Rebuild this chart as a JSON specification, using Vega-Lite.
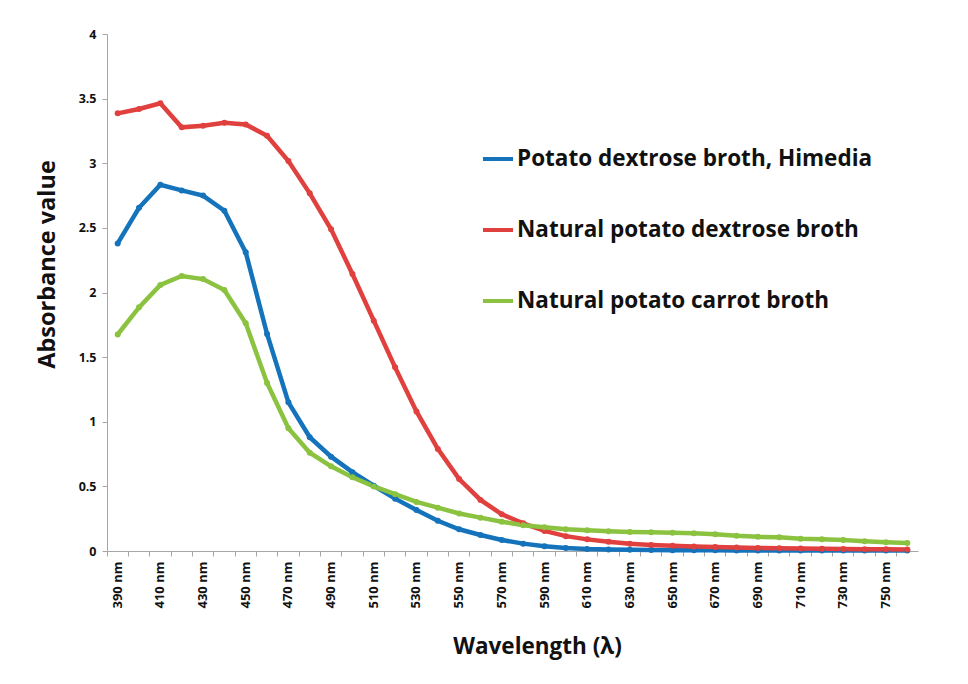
{
  "$schema": "https://vega.github.io/schema/vega-lite/v6.json",
  "width": 811,
  "height": 517,
  "autosize": {"type": "none"},
  "padding": {"left": 107, "top": 34, "right": 50, "bottom": 133},
  "background": "white",
  "config": {
    "view": {"stroke": null},
    "font": "Open Sans",
    "axis": {"labelFont": "Open Sans", "titleFont": "Open Sans", "labelFontWeight": "bold", "titleFontWeight": "bold", "labelColor": "#111", "titleColor": "#111", "domainColor": "#A6A6A6", "tickColor": "#A6A6A6", "grid": false},
    "legend": {"labelFont": "Open Sans"}
  },
  "data": {"values": [
    {"wavelength": 390, "series": "Potato dextrose broth, Himedia", "absorbance": 2.38},
    {"wavelength": 400, "series": "Potato dextrose broth, Himedia", "absorbance": 2.655},
    {"wavelength": 410, "series": "Potato dextrose broth, Himedia", "absorbance": 2.833},
    {"wavelength": 420, "series": "Potato dextrose broth, Himedia", "absorbance": 2.79},
    {"wavelength": 430, "series": "Potato dextrose broth, Himedia", "absorbance": 2.75},
    {"wavelength": 440, "series": "Potato dextrose broth, Himedia", "absorbance": 2.633},
    {"wavelength": 450, "series": "Potato dextrose broth, Himedia", "absorbance": 2.311},
    {"wavelength": 460, "series": "Potato dextrose broth, Himedia", "absorbance": 1.679},
    {"wavelength": 470, "series": "Potato dextrose broth, Himedia", "absorbance": 1.15},
    {"wavelength": 480, "series": "Potato dextrose broth, Himedia", "absorbance": 0.88},
    {"wavelength": 490, "series": "Potato dextrose broth, Himedia", "absorbance": 0.73},
    {"wavelength": 500, "series": "Potato dextrose broth, Himedia", "absorbance": 0.61},
    {"wavelength": 510, "series": "Potato dextrose broth, Himedia", "absorbance": 0.505},
    {"wavelength": 520, "series": "Potato dextrose broth, Himedia", "absorbance": 0.405},
    {"wavelength": 530, "series": "Potato dextrose broth, Himedia", "absorbance": 0.317},
    {"wavelength": 540, "series": "Potato dextrose broth, Himedia", "absorbance": 0.234},
    {"wavelength": 550, "series": "Potato dextrose broth, Himedia", "absorbance": 0.168},
    {"wavelength": 560, "series": "Potato dextrose broth, Himedia", "absorbance": 0.124},
    {"wavelength": 570, "series": "Potato dextrose broth, Himedia", "absorbance": 0.085},
    {"wavelength": 580, "series": "Potato dextrose broth, Himedia", "absorbance": 0.057},
    {"wavelength": 590, "series": "Potato dextrose broth, Himedia", "absorbance": 0.036},
    {"wavelength": 600, "series": "Potato dextrose broth, Himedia", "absorbance": 0.023},
    {"wavelength": 610, "series": "Potato dextrose broth, Himedia", "absorbance": 0.015},
    {"wavelength": 620, "series": "Potato dextrose broth, Himedia", "absorbance": 0.011},
    {"wavelength": 630, "series": "Potato dextrose broth, Himedia", "absorbance": 0.009},
    {"wavelength": 640, "series": "Potato dextrose broth, Himedia", "absorbance": 0.007},
    {"wavelength": 650, "series": "Potato dextrose broth, Himedia", "absorbance": 0.006},
    {"wavelength": 660, "series": "Potato dextrose broth, Himedia", "absorbance": 0.005},
    {"wavelength": 670, "series": "Potato dextrose broth, Himedia", "absorbance": 0.005},
    {"wavelength": 680, "series": "Potato dextrose broth, Himedia", "absorbance": 0.004},
    {"wavelength": 690, "series": "Potato dextrose broth, Himedia", "absorbance": 0.004},
    {"wavelength": 700, "series": "Potato dextrose broth, Himedia", "absorbance": 0.004},
    {"wavelength": 710, "series": "Potato dextrose broth, Himedia", "absorbance": 0.003},
    {"wavelength": 720, "series": "Potato dextrose broth, Himedia", "absorbance": 0.003},
    {"wavelength": 730, "series": "Potato dextrose broth, Himedia", "absorbance": 0.003},
    {"wavelength": 740, "series": "Potato dextrose broth, Himedia", "absorbance": 0.003},
    {"wavelength": 750, "series": "Potato dextrose broth, Himedia", "absorbance": 0.003},
    {"wavelength": 760, "series": "Potato dextrose broth, Himedia", "absorbance": 0.003},
    {"wavelength": 390, "series": "Natural potato dextrose broth", "absorbance": 3.386},
    {"wavelength": 400, "series": "Natural potato dextrose broth", "absorbance": 3.42},
    {"wavelength": 410, "series": "Natural potato dextrose broth", "absorbance": 3.464},
    {"wavelength": 420, "series": "Natural potato dextrose broth", "absorbance": 3.278},
    {"wavelength": 430, "series": "Natural potato dextrose broth", "absorbance": 3.29},
    {"wavelength": 440, "series": "Natural potato dextrose broth", "absorbance": 3.314},
    {"wavelength": 450, "series": "Natural potato dextrose broth", "absorbance": 3.3},
    {"wavelength": 460, "series": "Natural potato dextrose broth", "absorbance": 3.213},
    {"wavelength": 470, "series": "Natural potato dextrose broth", "absorbance": 3.017},
    {"wavelength": 480, "series": "Natural potato dextrose broth", "absorbance": 2.767},
    {"wavelength": 490, "series": "Natural potato dextrose broth", "absorbance": 2.489},
    {"wavelength": 500, "series": "Natural potato dextrose broth", "absorbance": 2.143},
    {"wavelength": 510, "series": "Natural potato dextrose broth", "absorbance": 1.782},
    {"wavelength": 520, "series": "Natural potato dextrose broth", "absorbance": 1.421},
    {"wavelength": 530, "series": "Natural potato dextrose broth", "absorbance": 1.08},
    {"wavelength": 540, "series": "Natural potato dextrose broth", "absorbance": 0.79},
    {"wavelength": 550, "series": "Natural potato dextrose broth", "absorbance": 0.557},
    {"wavelength": 560, "series": "Natural potato dextrose broth", "absorbance": 0.395},
    {"wavelength": 570, "series": "Natural potato dextrose broth", "absorbance": 0.284},
    {"wavelength": 580, "series": "Natural potato dextrose broth", "absorbance": 0.214},
    {"wavelength": 590, "series": "Natural potato dextrose broth", "absorbance": 0.155},
    {"wavelength": 600, "series": "Natural potato dextrose broth", "absorbance": 0.115},
    {"wavelength": 610, "series": "Natural potato dextrose broth", "absorbance": 0.09},
    {"wavelength": 620, "series": "Natural potato dextrose broth", "absorbance": 0.072},
    {"wavelength": 630, "series": "Natural potato dextrose broth", "absorbance": 0.057},
    {"wavelength": 640, "series": "Natural potato dextrose broth", "absorbance": 0.047},
    {"wavelength": 650, "series": "Natural potato dextrose broth", "absorbance": 0.04},
    {"wavelength": 660, "series": "Natural potato dextrose broth", "absorbance": 0.035},
    {"wavelength": 670, "series": "Natural potato dextrose broth", "absorbance": 0.031},
    {"wavelength": 680, "series": "Natural potato dextrose broth", "absorbance": 0.027},
    {"wavelength": 690, "series": "Natural potato dextrose broth", "absorbance": 0.024},
    {"wavelength": 700, "series": "Natural potato dextrose broth", "absorbance": 0.021},
    {"wavelength": 710, "series": "Natural potato dextrose broth", "absorbance": 0.019},
    {"wavelength": 720, "series": "Natural potato dextrose broth", "absorbance": 0.017},
    {"wavelength": 730, "series": "Natural potato dextrose broth", "absorbance": 0.015},
    {"wavelength": 740, "series": "Natural potato dextrose broth", "absorbance": 0.014},
    {"wavelength": 750, "series": "Natural potato dextrose broth", "absorbance": 0.013},
    {"wavelength": 760, "series": "Natural potato dextrose broth", "absorbance": 0.012},
    {"wavelength": 390, "series": "Natural potato carrot broth", "absorbance": 1.675},
    {"wavelength": 400, "series": "Natural potato carrot broth", "absorbance": 1.885},
    {"wavelength": 410, "series": "Natural potato carrot broth", "absorbance": 2.058},
    {"wavelength": 420, "series": "Natural potato carrot broth", "absorbance": 2.128},
    {"wavelength": 430, "series": "Natural potato carrot broth", "absorbance": 2.104},
    {"wavelength": 440, "series": "Natural potato carrot broth", "absorbance": 2.019},
    {"wavelength": 450, "series": "Natural potato carrot broth", "absorbance": 1.762},
    {"wavelength": 460, "series": "Natural potato carrot broth", "absorbance": 1.3},
    {"wavelength": 470, "series": "Natural potato carrot broth", "absorbance": 0.95},
    {"wavelength": 480, "series": "Natural potato carrot broth", "absorbance": 0.76},
    {"wavelength": 490, "series": "Natural potato carrot broth", "absorbance": 0.655},
    {"wavelength": 500, "series": "Natural potato carrot broth", "absorbance": 0.57},
    {"wavelength": 510, "series": "Natural potato carrot broth", "absorbance": 0.5},
    {"wavelength": 520, "series": "Natural potato carrot broth", "absorbance": 0.44},
    {"wavelength": 530, "series": "Natural potato carrot broth", "absorbance": 0.38},
    {"wavelength": 540, "series": "Natural potato carrot broth", "absorbance": 0.335},
    {"wavelength": 550, "series": "Natural potato carrot broth", "absorbance": 0.29},
    {"wavelength": 560, "series": "Natural potato carrot broth", "absorbance": 0.258},
    {"wavelength": 570, "series": "Natural potato carrot broth", "absorbance": 0.227},
    {"wavelength": 580, "series": "Natural potato carrot broth", "absorbance": 0.2},
    {"wavelength": 590, "series": "Natural potato carrot broth", "absorbance": 0.183},
    {"wavelength": 600, "series": "Natural potato carrot broth", "absorbance": 0.168},
    {"wavelength": 610, "series": "Natural potato carrot broth", "absorbance": 0.16},
    {"wavelength": 620, "series": "Natural potato carrot broth", "absorbance": 0.152},
    {"wavelength": 630, "series": "Natural potato carrot broth", "absorbance": 0.147},
    {"wavelength": 640, "series": "Natural potato carrot broth", "absorbance": 0.145},
    {"wavelength": 650, "series": "Natural potato carrot broth", "absorbance": 0.142},
    {"wavelength": 660, "series": "Natural potato carrot broth", "absorbance": 0.137},
    {"wavelength": 670, "series": "Natural potato carrot broth", "absorbance": 0.13},
    {"wavelength": 680, "series": "Natural potato carrot broth", "absorbance": 0.118},
    {"wavelength": 690, "series": "Natural potato carrot broth", "absorbance": 0.11},
    {"wavelength": 700, "series": "Natural potato carrot broth", "absorbance": 0.106},
    {"wavelength": 710, "series": "Natural potato carrot broth", "absorbance": 0.095},
    {"wavelength": 720, "series": "Natural potato carrot broth", "absorbance": 0.09},
    {"wavelength": 730, "series": "Natural potato carrot broth", "absorbance": 0.085},
    {"wavelength": 740, "series": "Natural potato carrot broth", "absorbance": 0.075},
    {"wavelength": 750, "series": "Natural potato carrot broth", "absorbance": 0.067},
    {"wavelength": 760, "series": "Natural potato carrot broth", "absorbance": 0.062}
  ]},
  "mark": {"type": "line", "strokeWidth": 4.5, "point": {"filled": true, "size": 36}},
  "encoding": {
    "x": {
      "field": "wavelength",
      "type": "ordinal",
      "scale": {"type": "band", "paddingInner": 0, "paddingOuter": 0},
      "axis": {
        "title": "Wavelength (λ)",
        "titleFontSize": 22.5,
        "titlePadding": 28,
        "titleX": 430,
        "labelAngle": -90,
        "labelFontSize": 13,
        "labelExpr": "datum.value % 20 == 10 ? datum.value + ' nm' : ''",
        "labelPadding": 5,
        "bandPosition": 0,
        "tickSize": 5,
        "labelOverlap": false
      }
    },
    "y": {
      "field": "absorbance",
      "type": "quantitative",
      "scale": {"domain": [0, 4], "nice": false},
      "axis": {
        "title": "Absorbance value",
        "titleFontSize": 23.5,
        "titlePadding": 19,
        "titleY": 230,
        "values": [0, 0.5, 1, 1.5, 2, 2.5, 3, 3.5, 4],
        "labelExpr": "datum.value + ''",
        "labelFontSize": 12.5,
        "labelPadding": 6,
        "tickSize": 5
      }
    },
    "color": {
      "field": "series",
      "type": "nominal",
      "sort": ["Potato dextrose broth, Himedia", "Natural potato dextrose broth", "Natural potato carrot broth"],
      "scale": {
        "domain": ["Potato dextrose broth, Himedia", "Natural potato dextrose broth", "Natural potato carrot broth"],
        "range": ["#1473BA", "#E0403E", "#8BC23F"]
      },
      "legend": {
        "title": null,
        "orient": "none",
        "legendX": 374,
        "legendY": 108,
        "symbolType": "stroke",
        "symbolSize": 900,
        "symbolStrokeWidth": 4,
        "labelFontSize": 22.5,
        "labelFontWeight": "bold",
        "labelColor": "#111",
        "labelLimit": 500,
        "labelOffset": 2,
        "rowPadding": 42
      }
    }
  }
}
